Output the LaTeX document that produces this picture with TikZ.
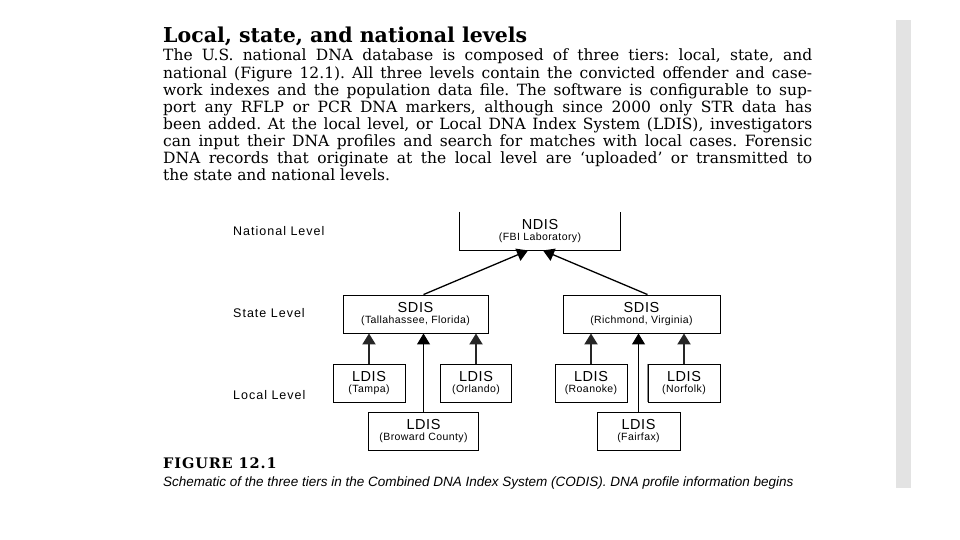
\documentclass[tikz,border=0pt]{standalone}
\usepackage{fontspec}
\setmainfont{DejaVu Serif}
\setsansfont{Liberation Sans}
\newfontfamily\levelfont{Liberation Sans}[LetterSpace=8]
\newfontfamily\boxfont{Liberation Sans}[LetterSpace=4]
\newfontfamily\fignumfont{DejaVu Serif}[LetterSpace=6]
\usetikzlibrary{positioning, arrows.meta, calc}

% one justified line of the page text
\newcommand{\fullline}[1]{\makebox[649pt][s]{#1}}
% two-line label inside a tier box
\newcommand{\tiername}[2]{{\fontsize{14.5}{15}\selectfont #1}\\[-1pt]{\fontsize{10.5}{12}\selectfont #2}}

\begin{document}
\frenchspacing
\begin{tikzpicture}[
    x=1pt, y=-1pt,
    % page and diagram styles
    tierbox/.style={
        rectangle,
        draw=black,
        line width=0.9pt,
        fill=white,
        inner sep=0pt,
        minimum height=38pt,
        align=center,
        font=\boxfont
    },
    levellabel/.style={
        anchor=west,
        inner sep=0pt,
        font=\levelfont\fontsize{12.5}{14}\selectfont
    },
    uparrow/.style={
        -{Triangle[width=13pt, length=11pt]},
        line width=2pt,
        black!85
    },
    thinarrow/.style={
        -{Triangle[width=13pt, length=11pt]},
        line width=1pt
    },
    toparrow/.style={
        -{Triangle[width=13pt, length=11pt]},
        line width=1.3pt
    }
]
\useasboundingbox (0,0) rectangle (960,540);
\fill[white] (0,0) rectangle (960,540);
\fill[black!11] (896,20) rectangle (911,488);

% === Page text ===
\node[anchor=base west, inner sep=0pt, font=\bfseries\fontsize{20.5}{22}\selectfont] (title) at (163,43) {Local, state, and national levels};
\node[anchor=north west, inner sep=0pt, align=left, font=\fontsize{15.5}{17.1}\selectfont] (body) at (163,49) {%
\fullline{The U.S. national DNA database is composed of three tiers: local, state, and}\\
\fullline{national (Figure 12.1). All three levels contain the convicted offender and case-}\\
\fullline{work indexes and the population data file. The software is configurable to sup-}\\
\fullline{port any RFLP or PCR DNA markers, although since 2000 only STR data has}\\
\fullline{been added. At the local level, or Local DNA Index System (LDIS), investigators}\\
\fullline{can input their DNA profiles and search for matches with local cases. Forensic}\\
\fullline{DNA records that originate at the local level are ‘uploaded’ or transmitted to}\\
the state and national levels.};

% === Level labels ===
\node[levellabel] (national) at (233,231) {National Level};
\node[levellabel] (state) at (233,313) {State Level};
\node[levellabel] (local) at (233,395) {Local Level};

% === National ===
\node[tierbox, draw=none, minimum width=160pt] (ndis) at (540,231) {\tiername{NDIS}{(FBI Laboratory)}};
\draw[line width=0.9pt] (ndis.north west) -- (ndis.south west) -- (ndis.south east) -- (ndis.north east);

% === State ===
\node[tierbox, minimum width=145pt] (sdisfl) at (415.5,314) {\tiername{SDIS}{(Tallahassee, Florida)}};
\node[tierbox, minimum width=157pt] (sdisva) at (641.5,314) {\tiername{SDIS}{(Richmond, Virginia)}};

% === Local ===
\node[tierbox, minimum width=72pt] (tampa) at (369,383) {\tiername{LDIS}{(Tampa)}};
\node[tierbox, minimum width=71pt] (orlando) at (476,383) {\tiername{LDIS}{(Orlando)}};
\node[tierbox, minimum width=110pt] (broward) at (423.5,431) {\tiername{LDIS}{(Broward County)}};
\node[tierbox, minimum width=72pt] (roanoke) at (591,383) {\tiername{LDIS}{(Roanoke)}};
\node[tierbox, minimum width=72pt] (norfolk) at (684,383) {\tiername{LDIS}{(Norfolk)}};
\draw[black!45, line width=1.6pt] (norfolk.north west) -- (norfolk.south west);
\node[tierbox, minimum width=83pt] (fairfax) at (638.5,431) {\tiername{LDIS}{(Fairfax)}};

% === Arrows ===
\foreach \leaf/\hub in {tampa/sdisfl, orlando/sdisfl, roanoke/sdisva, norfolk/sdisva}
    \draw[uparrow] (\leaf.north) -- (\leaf.north |- \hub.south);
\foreach \leaf/\hub in {broward/sdisfl, fairfax/sdisva}
    \draw[thinarrow] (\leaf.north) -- (\leaf.north |- \hub.south);
\draw[toparrow] ($(sdisfl.north)+(8,0)$) -- ($(ndis.south)+(-12,0)$);
\draw[toparrow] ($(sdisva.north)+(6,0)$) -- ($(ndis.south)+(3,0)$);

% === Caption ===
\node[anchor=base west, inner sep=0pt, font=\fignumfont\bfseries\fontsize{14.5}{16}\selectfont] (fignum) at (163,468) {FIGURE 12.1};
\node[anchor=base west, inner sep=0pt, font=\sffamily\itshape\fontsize{13.5}{15}\selectfont] (caption) at (163,486) {Schematic of the three tiers in the Combined DNA Index System (CODIS). DNA profile information begins};

\end{tikzpicture}
\end{document}
